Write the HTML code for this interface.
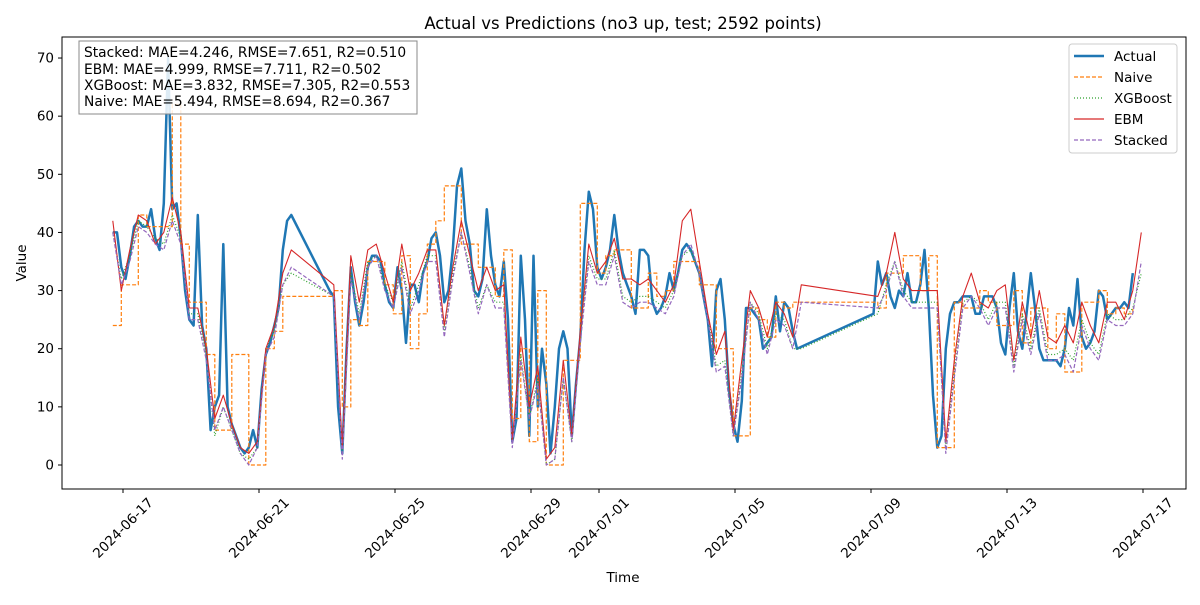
<!DOCTYPE html>
<html><head><meta charset="utf-8"><style>
body{margin:0;background:#fff;font-family:"Liberation Sans","DejaVu Sans",sans-serif}
svg text{font-family:"DejaVu Sans","Liberation Sans",sans-serif;fill:#000}
</style></head><body>
<svg id="chart" width="1200" height="600" viewBox="0 0 1200 600" xmlns="http://www.w3.org/2000/svg">
<rect width="1200" height="600" fill="#fff"/>
<text x="623" y="29" font-size="16.5" text-anchor="middle">Actual vs Predictions (no3 up, test; 2592 points)</text>
<g id="plot"></g>
<rect x="62" y="37" width="1124" height="452" fill="none" stroke="#000" stroke-width="1"/>
<g id="ticks"></g>
<text x="623" y="582" font-size="13.5" text-anchor="middle">Time</text>
<text x="26" y="263" font-size="13.5" text-anchor="middle" transform="rotate(-90 26 263)">Value</text>
<g>
<rect x="79" y="41" width="338" height="73" fill="#fff" fill-opacity="0.85" stroke="#888" stroke-width="1"/>
<text x="84" y="57" font-size="13.8">Stacked: MAE=4.246, RMSE=7.651, R2=0.510</text>
<text x="84" y="74" font-size="13.8">EBM: MAE=4.999, RMSE=7.711, R2=0.502</text>
<text x="84" y="90" font-size="13.8">XGBoost: MAE=3.832, RMSE=7.305, R2=0.553</text>
<text x="84" y="106" font-size="13.8">Naive: MAE=5.494, RMSE=8.694, R2=0.367</text>
</g>
<g>
<rect x="1069" y="44" width="108" height="109" rx="3" fill="#fff" fill-opacity="0.85" stroke="#ccc"/>
<g><line x1="1074" y1="56" x2="1104" y2="56" stroke="#1f77b4" stroke-width="2.5"/><text x="1114" y="61" font-size="13.5">Actual</text></g>
<g><line x1="1074" y1="77" x2="1104" y2="77" stroke="#ff7f0e" stroke-width="1.2" stroke-dasharray="4,2"/><text x="1114" y="82" font-size="13.5">Naive</text></g>
<g><line x1="1074" y1="98" x2="1104" y2="98" stroke="#2ca02c" stroke-width="1.2" stroke-dasharray="1,2"/><text x="1114" y="103" font-size="13.5">XGBoost</text></g>
<g><line x1="1074" y1="119" x2="1104" y2="119" stroke="#d62728" stroke-width="1.2"/><text x="1114" y="124" font-size="13.5">EBM</text></g>
<g><line x1="1074" y1="140" x2="1104" y2="140" stroke="#9467bd" stroke-width="1.2" stroke-dasharray="4,2"/><text x="1114" y="145" font-size="13.5">Stacked</text></g>
</g>
</svg>
<script>
// Actual on 3-hour grid starting 2024-06-16 ~16:48 (day offset -0.3 from 2024-06-17)
const actualStart = -0.3, actualStep = 0.125;
const actual = [40,40,34,32,36,41,42,41,41,44,39,37,45,70,44,45,39,30,25,24,43,24,20,6,10,12,38,10,7,5,3,2,3,6,3,13,19,21,24,27,37,42,43,
null,null,null,null,null,null,null,null,30,29,10,2,20,34,28,24,28,34,36,36,35,31,28,27,34,30,21,31,31,28,33,35,39,40,36,28,30,37,48,51,42,38,30,29,32,44,36,31,29,35,25,4,8,36,25,5,36,10,20,14,2,10,20,23,20,5,14,22,37,47,44,34,32,34,37,43,37,33,31,29,26,37,37,36,28,26,27,29,33,30,33,37,38,37,35,33,29,25,17,30,32,25,13,7,4,11,27,27,26,25,20,21,22,29,23,28,27,23,20,
null,null,null,null,null,null,null,null,null,null,null,null,null,null,null,null,null,
26,35,31,33,29,27,30,29,33,28,28,31,37,27,12,3,5,20,26,28,28,29,29,29,26,26,29,29,29,27,21,19,27,33,23,20,26,33,27,20,18,18,18,18,17,20,27,24,32,22,20,21,23,30,29,25,26,27,27,28,27,33];
// Predictions on 6-hour grid, same start
const predStart = -0.3, predStep = 0.25;
const ebm = [42,30,37,43,42,38,40,46,40,27,27,20,8,12,7,3,2,4,20,24,33,37,null,null,null,null,31,3,36,28,37,38,33,28,38,30,33,37,37,24,34,42,36,30,34,30,31,4,22,10,17,1,3,18,5,23,38,33,35,39,32,32,31,32,30,28,31,42,44,35,26,19,23,6,18,30,27,22,28,26,22,31,null,null,null,null,null,null,null,null,29,33,40,32,30,30,30,30,4,18,29,33,28,27,30,31,18,28,22,30,22,21,24,21,28,24,21,28,28,25,30,40];
const stacked = [40,31,35,41,40,38,37,42,38,25,25,18,6,10,6,2,0,3,19,22,31,34,null,null,null,null,29,1,32,25,34,36,30,27,34,26,30,35,35,22,32,40,33,26,31,27,27,3,18,8,14,0,1,15,4,21,35,31,31,36,28,27,28,28,27,26,29,36,38,33,25,16,17,5,15,28,25,19,25,24,20,28,null,null,null,null,null,null,null,null,27,30,35,29,27,27,27,27,2,15,27,29,27,24,27,27,16,25,19,26,18,18,19,16,24,20,18,25,24,24,26,35];
const xgboost = [40,32,36,42,41,39,38,43,39,26,26,19,5,10,6,2,1,3,20,23,31,33,null,null,null,null,29,2,33,26,35,36,31,28,35,27,31,36,36,23,33,40,34,27,31,28,28,4,19,8,15,0,1,15,4,22,36,32,32,37,29,28,29,29,28,27,30,36,37,33,26,17,18,5,16,28,26,20,26,25,20,20,null,null,null,null,null,null,null,null,26,31,35,30,28,28,28,28,3,16,28,29,28,25,28,28,17,26,20,27,19,19,20,18,25,21,19,26,25,25,27,33];
const naive = [24,31,31,43,41,41,41,62,38,28,28,19,6,6,19,19,0,0,20,23,29,29,null,null,null,null,30,10,25,24,35,35,31,26,36,20,26,38,42,48,48,38,38,34,34,29,37,8,20,4,30,0,0,18,18,45,45,33,36,37,37,27,27,33,29,30,35,35,35,31,31,20,20,5,5,27,25,22,28,27,28,28,null,null,null,null,null,null,null,null,27,33,33,36,36,30,36,3,3,28,27,27,30,28,24,24,30,21,27,27,20,26,16,16,28,28,30,26,27,26,27];
const yTicks = [0,10,20,30,40,50,60,70];
const xTickDays = [0,4,8,12,14,18,22,26,30];
const xTickLabels = ["2024-06-17","2024-06-21","2024-06-25","2024-06-29","2024-07-01","2024-07-05","2024-07-09","2024-07-13","2024-07-17"];

const X = d => 123 + d*34;
const Y = v => 465 - v*5.814;
const NS = "http://www.w3.org/2000/svg";
const plot = document.getElementById('plot');
const ticks = document.getElementById('ticks');

function pathFor(vals, start, step, stepped){
  let d = "", prev = null;
  vals.forEach((v,i)=>{
    if(v===null) return;
    const x = X(start+i*step), y = Y(v);
    if(prev===null) d += "M"+x.toFixed(1)+","+y.toFixed(1);
    else if(stepped) d += "L"+x.toFixed(1)+","+Y(prev).toFixed(1)+"L"+x.toFixed(1)+","+y.toFixed(1);
    else d += "L"+x.toFixed(1)+","+y.toFixed(1);
    prev = v;
  });
  return d;
}
function addLine(name, vals, start, step, color, width, dash, stepped){
  const p = document.createElementNS(NS,'path');
  p.setAttribute('d', pathFor(vals,start,step,stepped));
  p.setAttribute('fill','none');
  p.setAttribute('stroke',color);
  p.setAttribute('stroke-width',width);
  p.setAttribute('stroke-linejoin','round');
  if(dash) p.setAttribute('stroke-dasharray',dash);
  
  
  plot.appendChild(p);
}
addLine('series-actual', actual, actualStart, actualStep, '#1f77b4', 2.5, null, false);
addLine('series-naive', naive, predStart, predStep, '#ff7f0e', 1.2, '4,2', true);
addLine('series-xgboost', xgboost, predStart, predStep, '#2ca02c', 1.2, '1,2', false);
addLine('series-ebm', ebm, predStart, predStep, '#d62728', 1.1, null, false);
addLine('series-stacked', stacked, predStart, predStep, '#9467bd', 1.2, '4,2', false);

yTicks.forEach(v=>{
  const y = Y(v);
  const l = document.createElementNS(NS,'line');
  l.setAttribute('x1',58); l.setAttribute('x2',62); l.setAttribute('y1',y); l.setAttribute('y2',y);
  l.setAttribute('stroke','#000');
  
  
  ticks.appendChild(l);
  const t = document.createElementNS(NS,'text');
  t.setAttribute('x',54); t.setAttribute('y',y+4.5);
  t.setAttribute('font-size','13.5'); t.setAttribute('text-anchor','end');
  t.textContent = v;
  
  
  ticks.appendChild(t);
});
xTickDays.forEach((d,i)=>{
  const x = X(d);
  const l = document.createElementNS(NS,'line');
  l.setAttribute('x1',x); l.setAttribute('x2',x); l.setAttribute('y1',489); l.setAttribute('y2',493);
  l.setAttribute('stroke','#000');
  
  
  ticks.appendChild(l);
  const t = document.createElementNS(NS,'text');
  const cy = 528;
  t.setAttribute('x',x); t.setAttribute('y',cy+4.5);
  t.setAttribute('font-size','13.5'); t.setAttribute('text-anchor','middle');
  t.setAttribute('transform','rotate(-45 '+x+' '+cy+')');
  t.textContent = xTickLabels[i];
  
  
  ticks.appendChild(t);
});
</script>
</body></html>
